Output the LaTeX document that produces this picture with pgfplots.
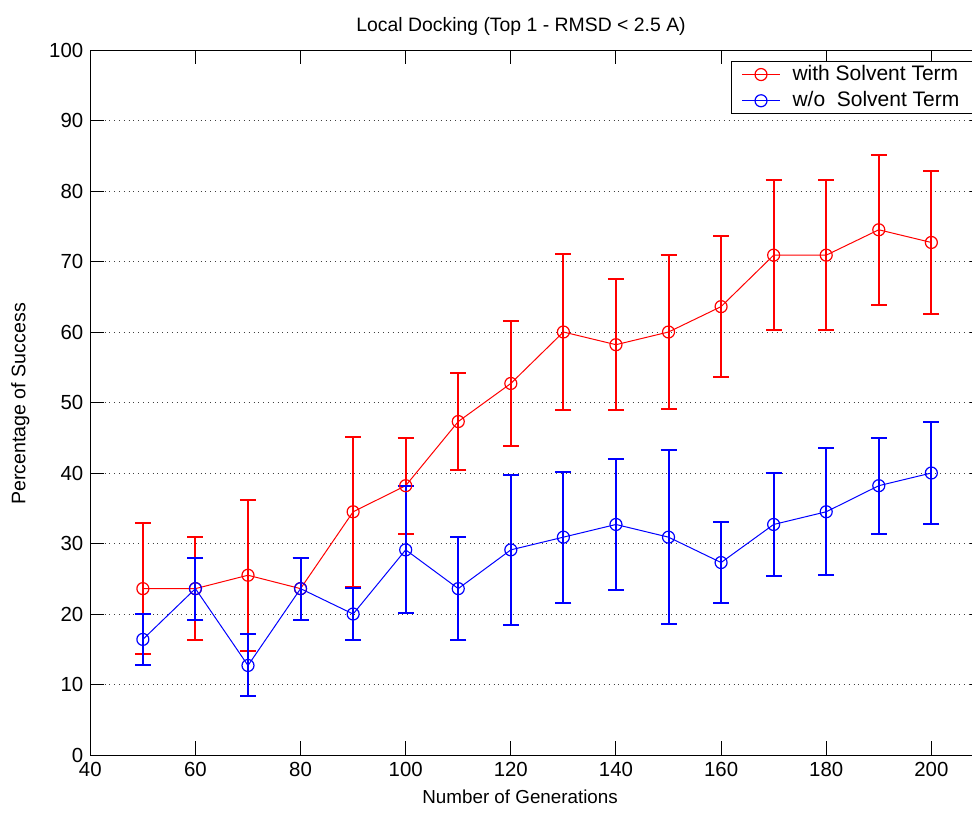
\documentclass[border=0pt]{standalone}
\usepackage{fontspec}
\setmainfont{Liberation Sans}
\usepackage{pgfplots}
\pgfplotsset{compat=1.18}
\usepackage{pgfplotstable}

\pgfplotstableread{
x y e
50 23.6 9.3
60 23.6 7.3
70 25.5 10.7
80 23.6 4.4
90 34.5 10.6
100 38.2 6.8
110 47.3 6.9
120 52.7 8.9
130 60.0 11.0
140 58.2 9.3
150 60.0 10.9
160 63.6 10.0
170 70.9 10.6
180 70.9 10.6
190 74.5 10.6
200 72.7 10.1
}\withsolv

\pgfplotstableread{
x y e
50 16.4 3.6
60 23.6 4.4
70 12.7 4.4
80 23.6 4.4
90 20.0 3.7
100 29.1 9.0
110 23.6 7.3
120 29.1 10.6
130 30.9 9.3
140 32.7 9.3
150 30.9 12.3
160 27.3 5.8
170 32.7 7.3
180 34.5 9.0
190 38.2 6.8
200 40.0 7.3
}\wosolv

\begin{document}
\begin{tikzpicture}
\begin{axis}[
  scale only axis,
  width=446.8pt, height=352.5pt,
  xmin=40, xmax=210, ymin=0, ymax=100,
  xtick={40,60,...,200}, ytick={0,10,...,100},
  tick align=inside, major tick length=7pt,
  tick style={black, line width=0.5pt},
  axis line style={black, line width=0.5pt},
  ymajorgrids,
  grid style={dotted, black!75, line width=0.5pt},
  /pgf/number format/assume math mode=true,
  ticklabel style={font=\fontsize{10.2}{12}\selectfont},
  title={Local Docking (Top 1 - RMSD < 2.5 A)},
  every axis title/.style={at={(axis description cs:0.482,1.0265)}, anchor=base, font=\fontsize{9.7}{12}\selectfont, inner sep=0pt},
  xlabel={Number of Generations},
  every axis x label/.style={at={(axis description cs:0.481,-0.0681)}, anchor=base, font=\fontsize{9.4}{12}\selectfont, inner sep=0pt},
  ylabel={Percentage of Success},
  every axis y label/.style={at={(axis description cs:-0.0783,0.498)}, anchor=center, rotate=90, font=\fontsize{9.8}{12}\selectfont, inner sep=0pt},
  legend style={at={(axis description cs:0.717,0.9845)}, anchor=north west, draw=black, line width=0.5pt, font=\fontsize{10.5}{12}\selectfont, row sep=0pt, inner xsep=5pt, inner ysep=0pt, column sep=4pt},
  legend cell align=left,
  legend image code/.code={\draw[mark repeat=2, mark phase=2] plot coordinates {(0pt,0pt) (9.5pt,0pt) (19pt,0pt)};},
]
\addplot[red, line width=0.5pt, mark=o, mark size=3pt, mark options={line width=0.6pt},
  error bars/y dir=both, error bars/y explicit,
  error bars/error bar style={red, line width=1pt},
  error bars/error mark options={rotate=90, mark size=4pt, red, line width=1pt}]
  table[x=x, y=y, y error=e] {\withsolv};
\addlegendentry{with Solvent Term\hspace*{12pt}}
\addplot[blue, line width=0.5pt, mark=o, mark size=3pt, mark options={line width=0.6pt},
  error bars/y dir=both, error bars/y explicit,
  error bars/error bar style={blue, line width=1pt},
  error bars/error mark options={rotate=90, mark size=4pt, blue, line width=1pt}]
  table[x=x, y=y, y error=e] {\wosolv};
\addlegendentry{w/o\ \ Solvent Term}
\end{axis}
\pgfresetboundingbox
\path[use as bounding box] (current axis.south west) ++(-45.15pt,-33pt) rectangle ++(486pt,410.5pt);
\end{tikzpicture}
\end{document}
